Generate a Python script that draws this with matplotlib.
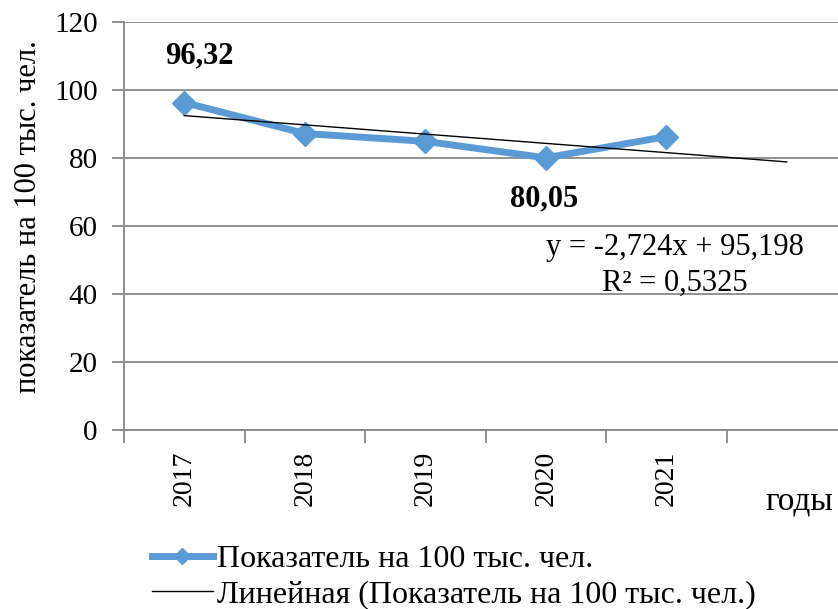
import matplotlib
matplotlib.use("Agg")
import matplotlib.pyplot as plt
import numpy as np
from matplotlib.lines import Line2D

years = ["2017", "2018", "2019", "2020", "2021"]
values = [96.32, 87.2, 84.9, 80.05, 86.3]
trend_slope = -2.724
trend_intercept = 95.198
r2 = 0.5325
y_ticks = [0, 20, 40, 60, 80, 100, 120]

plt.rcParams['font.family'] = ['Liberation Serif', 'DejaVu Serif']

fig = plt.figure(figsize=(8.38, 6.09), dpi=100)
ax = fig.add_axes([124/838, 1-430/609, 1-124/838, (430-22)/609])

x = np.arange(1, len(years)+1)
grid_c = '#888888'
for t in y_ticks:
    ax.axhline(t, color=grid_c, lw=1.3, zorder=0)

ax.plot(x, values, color='#5B9BD5', lw=5, marker='D', markersize=12, zorder=3)

xt = np.arange(1, len(years)+2)
ax.plot(xt, trend_intercept + trend_slope*xt, color='black', lw=1.0, zorder=4)

ax.set_yticks(y_ticks)
ax.set_yticklabels([str(t) for t in y_ticks], fontsize=21)
ax.set_xticks(x)
ax.set_xticklabels(years, rotation=90, fontsize=20)
ax.tick_params(axis='x', length=0, pad=15)
ax.tick_params(axis='y', length=9, width=1.3, color=grid_c, pad=10)
# category boundary ticks
ax.set_xticks(np.arange(0.5, 5.6, 1.0), minor=True)
ax.tick_params(axis='x', which='minor', length=9, width=1.3, color=grid_c)
ax.set_xlim(0.5, 0.5 + 714/120.5)
ax.set_ylim(0, 120)

for s in ['top', 'right']:
    ax.spines[s].set_visible(False)
for s in ['left', 'bottom']:
    ax.spines[s].set_color(grid_c)
    ax.spines[s].set_linewidth(1.3)

ax.set_ylabel("показатель на 100 тыс. чел.", fontsize=22, labelpad=8)
ax.yaxis.label.set_y((430-217)/408)

fig.text(199.5/838, 1-56/609, "96,32", ha='center', va='center',
         fontsize=22, fontweight='bold')
fig.text(544.5/838, 1-199/609, "80,05", ha='center', va='center',
         fontsize=22, fontweight='bold')

fig.text(804/838, 1-247/609, "y = -2,724x + 95,198",
         ha='right', va='center', fontsize=22)
fig.text(748/838, 1-283/609, "R² = 0,5325",
         ha='right', va='center', fontsize=22)

fig.text(833/838, 1-501/609, "годы", ha='right', va='center', fontsize=24)

handles = [Line2D([], [], color='#5B9BD5', lw=5, marker='D', markersize=8),
           Line2D([], [], color='black', lw=1.0)]
labels = ["Показатель на 100 тыс. чел.", "Линейная (Показатель на 100 тыс. чел.)"]
fig.legend(handles, labels, loc='upper left', bbox_to_anchor=(152/838, 1-545/609),
           frameon=False, fontsize=23, handlelength=1.9, handletextpad=0.12,
           labelspacing=0.165, borderaxespad=0, borderpad=0)

fig.savefig("out.png", dpi=100)
